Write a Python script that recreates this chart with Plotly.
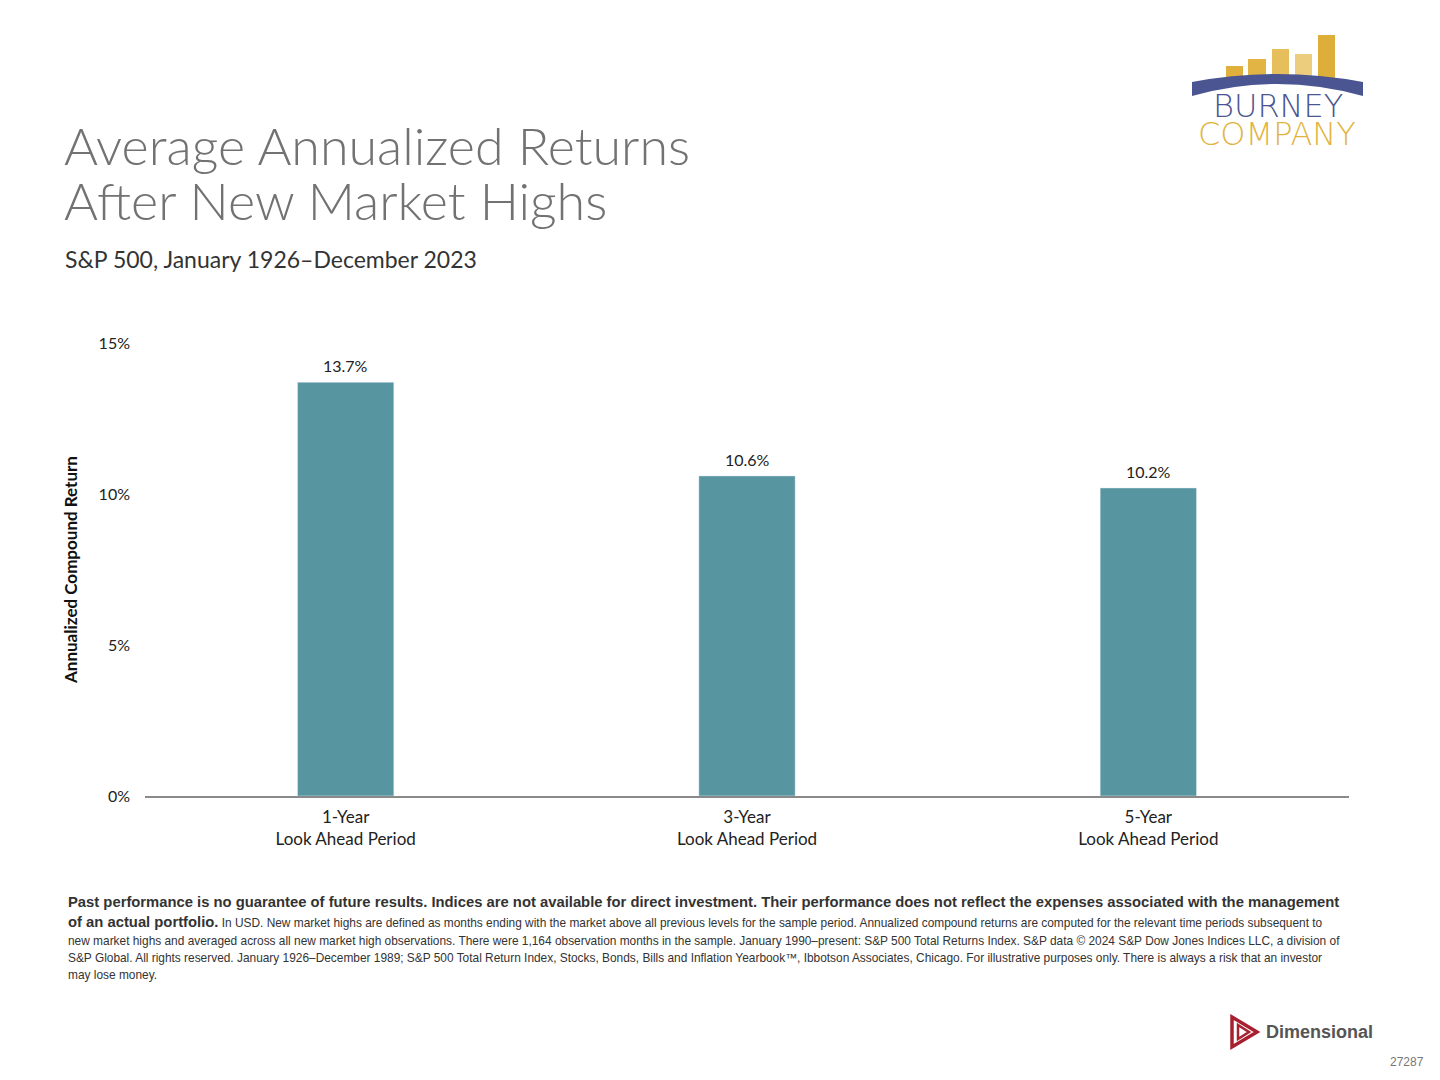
import plotly.graph_objects as go

periods = ["1-Year<br>Look Ahead Period", "3-Year<br>Look Ahead Period", "5-Year<br>Look Ahead Period"]
returns = [13.7, 10.6, 10.2]
value_labels = ["13.7%", "10.6%", "10.2%"]
y_ticks = [0, 5, 10, 15]
y_tick_labels = ["0%", "5%", "10%", "15%"]

W, H = 1440, 1080
OFF = 8  # page body margin
L, R, T, B = 145 - OFF, 1349 - OFF, 343 - OFF, 796 - OFF


def px_x(x):
    return (x - OFF - L) / (R - L)


def px_y(y):
    return (B - (y - OFF)) / (B - T)


fig = go.Figure()
fig.add_trace(go.Bar(
    x=periods,
    y=returns,
    marker=dict(color="#5796A0"),
    width=0.24,
    hoverinfo="skip",
))

fig.update_layout(
    width=W,
    height=H,
    margin=dict(l=L, r=W - R, t=T, b=H - B),
    plot_bgcolor="white",
    paper_bgcolor="white",
    showlegend=False,
    font=dict(family="Lato", color="#222"),
    xaxis=dict(
        showgrid=False,
        showline=True,
        linecolor="#8a8a8a",
        linewidth=1.5,
        ticks="",
        ticklabelstandoff=5,
        tickfont=dict(family="Lato", size=17, color="#222"),
    ),
    yaxis=dict(
        range=[0, 15],
        tickvals=y_ticks,
        ticktext=y_tick_labels,
        showgrid=False,
        zeroline=False,
        showline=False,
        ticks="",
        ticklabelstandoff=14,
        tickfont=dict(family="Lato", size=16, color="#222"),
        title=dict(
            text="<b>Annualized Compound Return</b>",
            font=dict(family="Lato", size=17, color="#111"),
            standoff=16,
        ),
    ),
)

annotations = []

# value labels above bars
for p, v, lab in zip(periods, returns, value_labels):
    annotations.append(dict(
        text=lab, x=p, y=v, xref="x", yref="y", xanchor="center", yanchor="bottom",
        yshift=5, showarrow=False, font=dict(family="Lato", size=16, color="#222"),
    ))


def add_text(text, x, y, size, color, family="Lato", weight=None, xanchor="left", yanchor="middle"):
    font = dict(family=family, size=size, color=color)
    if weight:
        font["weight"] = weight
    annotations.append(dict(
        text=text, x=px_x(x), y=px_y(y), xref="paper", yref="paper",
        xanchor=xanchor, yanchor=yanchor, showarrow=False, align="left", font=font,
    ))


add_text("Average Annualized Returns", 62, 145, 52, "#727272", weight=300)
add_text("After New Market Highs", 62, 200, 52, "#727272", weight=300)
add_text("S&P 500, January 1926\u2013December 2023", 63, 259, 23, "#333")

foot = "Liberation Sans"
add_text("<b>Past performance is no guarantee of future results. Indices are not available for direct investment. "
         "Their performance does not reflect the expenses associated with the management</b>",
         66, 902, 14.8, "#333", family=foot)
add_text("<span style='font-size:14.8px'><b>of an actual portfolio.</b></span> In USD. New market highs are defined as months "
         "ending with the market above all previous levels for the sample period. Annualized compound returns are "
         "computed for the relevant time periods subsequent to",
         66, 922, 11.9, "#333", family=foot)
add_text("new market highs and averaged across all new market high observations. There were 1,164 observation months "
         "in the sample. January 1990\u2013present: S&P 500 Total Returns Index. S&P data \u00a9 2024 S&P Dow Jones "
         "Indices LLC, a division of",
         66, 941, 11.9, "#333", family=foot)
add_text("S&P Global. All rights reserved. January 1926\u2013December 1989; S&P 500 Total Return Index, Stocks, Bonds, "
         "Bills and Inflation Yearbook\u2122, Ibbotson Associates, Chicago. For illustrative purposes only. There is "
         "always a risk that an investor",
         66, 958, 11.9, "#333", family=foot)
add_text("may lose money.", 66, 975, 11.9, "#333", family=foot)

# Burney Company logo
add_text("BURNEY", 1278, 106, 32, "#4A5591", family="DejaVu Sans", weight=200, xanchor="center")
add_text("COMPANY", 1277, 134, 32, "#E2B43F", family="DejaVu Sans", weight=200, xanchor="center")

# Dimensional logo and slide number
add_text("<b>Dimensional</b>", 1264, 1032, 18, "#555", family=foot)
add_text("27287", 1426, 1062, 12, "#777", family=foot, xanchor="right")

fig.update_layout(annotations=annotations)

shapes = []
logo_bars = [(1226, 1243, 66), (1248, 1266, 59), (1272, 1289, 49), (1295, 1312, 54), (1318, 1335, 35)]
bar_colors = ["#DFB03C", "#E1B444", "#E6BF5C", "#ECCD7E", "#DDAE3A"]
for (x0, x1, top), c in zip(logo_bars, bar_colors):
    shapes.append(dict(type="rect", xref="paper", yref="paper",
                       x0=px_x(x0), x1=px_x(x1), y0=px_y(80), y1=px_y(top),
                       fillcolor=c, line=dict(width=0), layer="above"))

arc = "M {},{} Q {},{} {},{} L {},{} Q {},{} {},{} Z".format(
    px_x(1192), px_y(82), px_x(1277), px_y(66), px_x(1363), px_y(82),
    px_x(1363), px_y(96), px_x(1277), px_y(72), px_x(1192), px_y(96))
shapes.append(dict(type="path", xref="paper", yref="paper", path=arc,
                   fillcolor="#4A5591", line=dict(width=0), layer="above"))

tri_outer = "M {},{} L {},{} L {},{} Z".format(
    px_x(1232), px_y(1017), px_x(1257), px_y(1032), px_x(1232), px_y(1047))
tri_inner = "M {},{} L {},{} L {},{} Z".format(
    px_x(1238), px_y(1025), px_x(1249), px_y(1032), px_x(1238), px_y(1039))
shapes.append(dict(type="path", xref="paper", yref="paper", path=tri_outer,
                   fillcolor="rgba(0,0,0,0)", line=dict(color="#A8202F", width=3.5), layer="above"))
shapes.append(dict(type="path", xref="paper", yref="paper", path=tri_inner,
                   fillcolor="rgba(0,0,0,0)", line=dict(color="#A8202F", width=2.5), layer="above"))

fig.update_layout(shapes=shapes)

fig.write_html("out.html")
